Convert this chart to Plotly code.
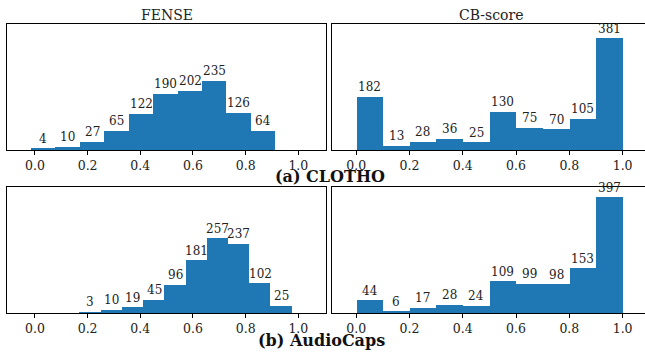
import numpy as np
import plotly.graph_objects as go

# ---- data ----
fense_clotho = [4, 10, 27, 65, 122, 190, 202, 235, 126, 64]
cb_clotho = [182, 13, 28, 36, 25, 130, 75, 70, 105, 381]
fense_audiocaps = [3, 10, 19, 45, 96, 181, 257, 237, 102, 25]
cb_audiocaps = [44, 6, 17, 28, 24, 109, 99, 98, 153, 397]

fense_clotho_range = (-0.015, 0.914)
cb_clotho_range = (0.0, 1.0)
fense_audiocaps_range = (0.17, 0.976)
cb_audiocaps_range = (0.0, 1.0)

col_titles = ["FENSE", "CB-score"]
row_labels = ["(a) CLOTHO", "(b) AudioCaps"]
tick_vals = [0.0, 0.2, 0.4, 0.6, 0.8, 1.0]
tick_text = ["0.0", "0.2", "0.4", "0.6", "0.8", "1.0"]

W, H = 645, 352
BAR = "#1f77b4"
FONT = "DejaVu Serif"

def px_x(p):
    return p / W

def px_y(p):
    return 1 - p / H

panels = [
    (fense_clotho, fense_clotho_range, 1, (7.3, 326), (24.3, 150), 430, True, (-0.105, 1.105)),
    (cb_clotho, cb_clotho_range, 2, (331.7, 645), (24.3, 150), 430, False, (-0.092, 1.084)),
    (fense_audiocaps, fense_audiocaps_range, 3, (7.3, 326), (187.3, 313.3), 433, True, (-0.105, 1.105)),
    (cb_audiocaps, cb_audiocaps_range, 4, (331.7, 645), (187.3, 313.3), 433, False, (-0.092, 1.084)),
]

fig = go.Figure()
annotations = []
layout = {}
for counts, rng, k, xd, yd, ymax, mirror_y, xr in panels:
    n = len(counts)
    edges = np.linspace(rng[0], rng[1], n + 1)
    width = edges[1] - edges[0]
    xa = "x" if k == 1 else f"x{k}"
    ya = "y" if k == 1 else f"y{k}"
    fig.add_trace(go.Bar(
        x=edges[:-1], y=counts, width=[width] * n, offset=0,
        marker=dict(color=BAR, line=dict(width=0)),
        xaxis=xa, yaxis=ya, showlegend=False, hoverinfo="skip",
    ))
    for e, c in zip(edges[:-1], counts):
        annotations.append(dict(
            x=e + width / 2, y=c, xref=xa, yref=ya, text=str(c),
            showarrow=False, yanchor="bottom", yshift=1,
            font=dict(family=FONT, size=12, color="#222"),
        ))
    xkey = "xaxis" if k == 1 else f"xaxis{k}"
    ykey = "yaxis" if k == 1 else f"yaxis{k}"
    layout[xkey] = dict(
        domain=[px_x(xd[0]), px_x(xd[1])], anchor=ya, range=list(xr),
        tickmode="array", tickvals=tick_vals, ticktext=tick_text,
        ticks="outside", ticklen=3.5, tickwidth=1, tickcolor="#000",
        showline=True, linecolor="#000", linewidth=1, mirror=True,
        showgrid=False, zeroline=False,
        tickfont=dict(family=FONT, size=12.5, color="#222"),
    )
    layout[ykey] = dict(
        domain=[px_y(yd[1]), px_y(yd[0])], anchor=xa, range=[0, ymax],
        showticklabels=False, ticks="", showgrid=False, zeroline=False,
        showline=True, linecolor="#000", linewidth=1, mirror=mirror_y,
    )

annotations.append(dict(x=px_x(166.7), y=px_y(15), xref="paper", yref="paper",
                        text=col_titles[0], showarrow=False, xanchor="center", yanchor="middle",
                        font=dict(family=FONT, size=14, color="#222")))
annotations.append(dict(x=px_x(490.5), y=px_y(15), xref="paper", yref="paper",
                        text=col_titles[1], showarrow=False, xanchor="center", yanchor="middle",
                        font=dict(family=FONT, size=14, color="#222")))
annotations.append(dict(x=px_x(330), y=px_y(176), xref="paper", yref="paper",
                        text="<b>" + row_labels[0] + "</b>", showarrow=False,
                        xanchor="center", yanchor="middle",
                        font=dict(family=FONT, size=16, color="#111")))
annotations.append(dict(x=px_x(321.5), y=px_y(340), xref="paper", yref="paper",
                        text="<b>" + row_labels[1] + "</b>", showarrow=False,
                        xanchor="center", yanchor="middle",
                        font=dict(family=FONT, size=16, color="#111")))

fig.update_layout(
    width=W, height=H, margin=dict(l=0, r=0, t=0, b=0),
    paper_bgcolor="white", plot_bgcolor="white",
    bargap=0, annotations=annotations, **layout,
)
fig.write_html("out.html", config={"displayModeBar": False},
               post_script="document.body.style.margin='0';document.body.style.overflow='hidden';")
